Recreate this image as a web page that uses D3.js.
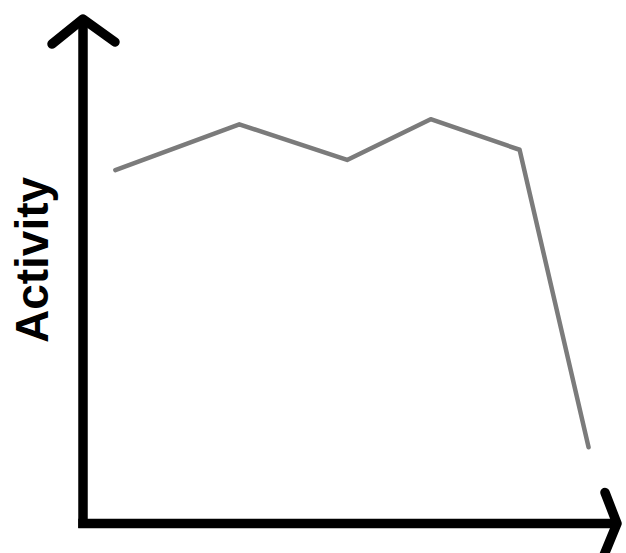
<!DOCTYPE html>
<html>
<head>
<meta charset="utf-8">
<script src="https://cdn.jsdelivr.net/npm/d3@7"></script>
<style>
  html, body { margin: 0; padding: 0; background: #fff; }
  svg { display: block; }
</style>
</head>
<body>
<div id="chart"></div>
<script>
// ---- data ----
const timeValues = [0.6, 2.9, 4.9, 6.45, 8.1, 9.38];
const activityValues = [6.95, 7.85, 7.15, 7.95, 7.35, 1.5];
const yAxisLabel = "Activity";

const width = 626, height = 553;
const origin = { x: 83, y: 523.5 };

const x = d3.scaleLinear().domain([0, 10]).range([origin.x, 622]);
const y = d3.scaleLinear().domain([0, 10]).range([origin.y, 15]);

const svg = d3.select("#chart").append("svg")
  .attr("width", width).attr("height", height);

// line
const line = d3.line()
  .x((d, i) => x(timeValues[i]))
  .y(d => y(d));

svg.append("path")
  .datum(activityValues)
  .attr("d", line)
  .attr("fill", "none")
  .attr("stroke", "#7b7b7b")
  .attr("stroke-width", 4.5)
  .attr("stroke-linejoin", "round")
  .attr("stroke-linecap", "round");

// axes
const axisG = svg.append("g")
  .attr("fill", "none")
  .attr("stroke", "#000")
  .attr("stroke-width", 9.5)
  .attr("stroke-linejoin", "round")
  .attr("stroke-linecap", "round");

const yTop = y.range()[1] + 4;
const xEnd = x.range()[1] - 5;

// vertical axis
axisG.append("line")
  .attr("x1", origin.x).attr("y1", origin.y + 4.5)
  .attr("x2", origin.x).attr("y2", yTop)
  .attr("stroke-linecap", "butt");
// vertical arrowhead
axisG.append("path")
  .attr("d", `M${origin.x - 31},${yTop + 25} L${origin.x},${yTop} L${origin.x + 32},${yTop + 23}`);

// horizontal axis
axisG.append("line")
  .attr("x1", origin.x - 4.75).attr("y1", origin.y)
  .attr("x2", xEnd).attr("y2", origin.y)
  .attr("stroke-linecap", "butt");
// horizontal arrowhead
axisG.append("path")
  .attr("d", `M${xEnd - 12},${origin.y - 31} L${xEnd},${origin.y} L${xEnd - 14},${origin.y + 34}`);

// y label
svg.append("text")
  .attr("transform", `translate(48,260) rotate(-90)`)
  .attr("text-anchor", "middle")
  .attr("font-family", "Liberation Sans, Arial, sans-serif")
  .attr("font-weight", "bold")
  .attr("font-size", 46)
  .attr("fill", "#000")
  .text(yAxisLabel);
</script>
</body>
</html>
